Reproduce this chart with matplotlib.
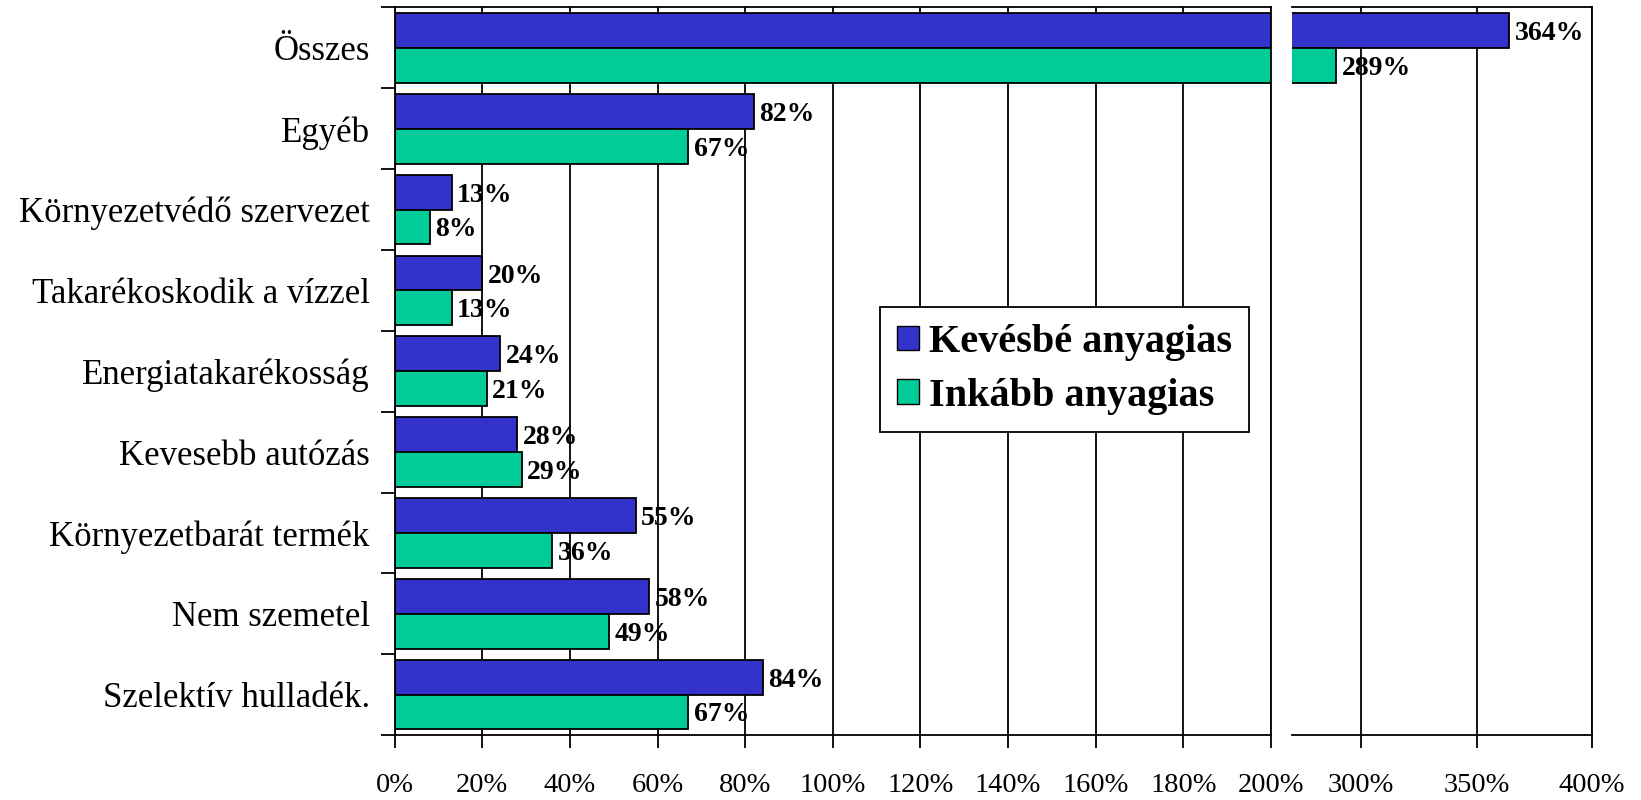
import matplotlib
matplotlib.use("Agg")
import numpy as np
import matplotlib.pyplot as plt
from matplotlib.patches import Patch

# ---------------------------------------------------------
# Data (top to bottom as in the chart)
# ---------------------------------------------------------
categories = [
    "Összes",
    "Egyéb",
    "Környezetvédő szervezet",
    "Takarékoskodik a vízzel",
    "Energiatakarékosság",
    "Kevesebb autózás",
    "Környezetbarát termék",
    "Nem szemetel",
    "Szelektív hulladék.",
]
less_material = [364, 82, 13, 20, 24, 28, 55, 58, 84]   # Kevésbé anyagias
more_material = [289, 67, 8, 13, 21, 29, 36, 49, 67]    # Inkább anyagias
series_names = ["Kevésbé anyagias", "Inkább anyagias"]

left_ticks = list(range(0, 201, 20))
right_ticks = [300, 350, 400]

# ---------------------------------------------------------
# Style
# ---------------------------------------------------------
plt.rcParams["font.family"] = ["Liberation Serif", "DejaVu Serif"]
blue = "#3333CC"
green = "#00CC99"
lw = 1.3

fig = plt.figure(figsize=(16.41, 8), dpi=100)
W, H = 1641, 800
bottom, top = 735, 7.5
ax1 = fig.add_axes([394.7 / W, (H - bottom) / H, (1271 - 394.7) / W, (bottom - top) / H])
ax2 = fig.add_axes([1292 / W, (H - bottom) / H, (1592 - 1292) / W, (bottom - top) / H], sharey=ax1)

y = np.arange(len(categories))
h = 0.43

for ax in (ax1, ax2):
    ax.barh(y - h / 2, less_material, height=h, color=blue, edgecolor="black", linewidth=lw, zorder=2)
    ax.barh(y + h / 2, more_material, height=h, color=green, edgecolor="black", linewidth=lw, zorder=2)
    ax.grid(axis="x", color="black", linewidth=lw, zorder=0)
    ax.set_axisbelow(True)
    for s in ax.spines.values():
        s.set_linewidth(lw)

ax1.set_xlim(0, 200)
ax2.set_xlim(270, 400)
ax1.set_ylim(len(categories) - 0.5, -0.5)

# x axes
ax1.set_xticks(left_ticks, [f"{t}%" for t in left_ticks])
ax2.set_xticks(right_ticks, [f"{t}%" for t in right_ticks])
for ax in (ax1, ax2):
    ax.tick_params(axis="x", direction="out", length=9, width=lw, pad=18.5, labelsize=20.5)

# y axis: labels at centres, tick marks between categories
ax1.set_yticks(y, categories)
ax1.set_yticks(np.arange(len(categories) + 1) - 0.5, minor=True)
ax1.tick_params(axis="y", which="major", length=0, pad=18, labelsize=25)
ax1.tick_params(axis="y", which="minor", direction="out", length=10, width=lw)
ax2.tick_params(axis="y", which="both", left=False, labelleft=False)
ax2.spines["left"].set_visible(False)

# ---------------------------------------------------------
# Value labels
# ---------------------------------------------------------
for vals, off in ((less_material, -h / 2), (more_material, h / 2)):
    for i, v in enumerate(vals):
        ax = ax1 if v <= 200 else ax2
        ax.annotate(f"{v}%", (v, i + off), xytext=(4, 0), textcoords="offset points",
                    ha="left", va="center_baseline", fontsize=20, fontweight="bold", zorder=3)

# ---------------------------------------------------------
# Legend
# ---------------------------------------------------------
handles = [Patch(facecolor=blue, edgecolor="black", linewidth=1),
           Patch(facecolor=green, edgecolor="black", linewidth=1)]
leg = fig.legend(handles, series_names, loc="upper left",
                 bbox_to_anchor=(880 / W, 1 - 307 / H), borderaxespad=0,
                 fancybox=False, framealpha=1, edgecolor="black",
                 prop={"size": 29, "weight": "bold"},
                 handlelength=0.55, handleheight=0.55, handletextpad=0.25,
                 borderpad=0.42, labelspacing=0.42)
leg.get_frame().set_linewidth(lw)

fig.savefig("out.png", dpi=100)
